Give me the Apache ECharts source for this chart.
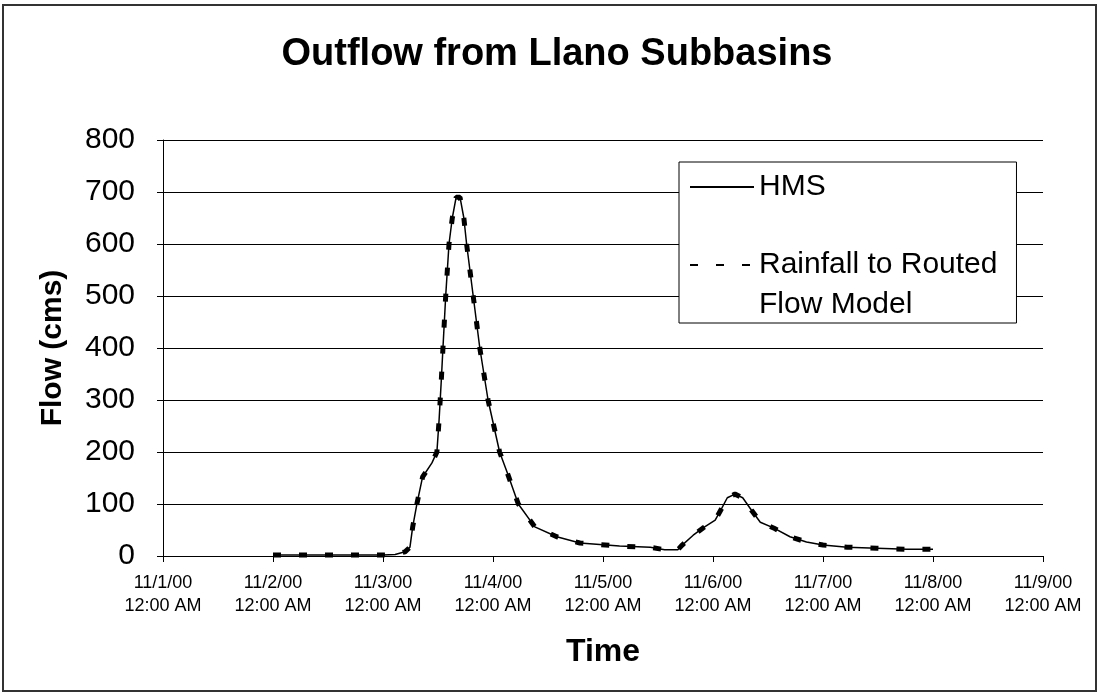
<!DOCTYPE html>
<html>
<head>
<meta charset="utf-8">
<script src="https://cdn.jsdelivr.net/npm/echarts@6/dist/echarts.min.js"></script>
<style>
html,body{margin:0;padding:0;background:#fff;}
#chart{width:1099px;height:694px;}
</style>
</head>
<body>
<div id="chart"></div>
<script>
// Time in days since 11/1/00 12:00 AM
var timeDays = [1.0, 1.5, 2.0, 2.11, 2.2, 2.245, 2.27, 2.31, 2.36, 2.445, 2.49, 2.51, 2.53, 2.545, 2.57, 2.60, 2.63, 2.665, 2.70, 2.735, 2.76, 2.82, 2.88, 2.955, 3.06, 3.13, 3.23, 3.38, 3.58, 3.79, 4.15, 4.43, 4.56, 4.68, 4.72, 4.82, 4.91, 5.02, 5.08, 5.13, 5.2, 5.27, 5.35, 5.43, 5.55, 5.7, 5.85, 6.0, 6.22, 6.49, 6.76, 7.0];
var hmsFlow = [2, 2, 2, 3, 8, 17, 56, 102, 152, 179, 200, 262, 338, 400, 500, 600, 650, 690, 690, 650, 600, 500, 400, 300, 200, 160, 100, 56, 37, 25, 19, 17, 12, 12, 21, 40, 54, 69, 92, 112, 119, 112, 88, 65, 54, 37, 27, 21, 17, 15, 13, 13];
var modelFlow = [2, 2, 2, 3, 8, 17, 56, 102, 152, 179, 200, 262, 338, 400, 500, 600, 650, 690, 690, 650, 600, 500, 400, 300, 200, 160, 100, 56, 37, 25, 19, 17, 12, 12, 21, 40, 54, 69, 92, 112, 119, 112, 88, 65, 54, 37, 27, 21, 17, 15, 13, 13];
var xTickLabels = ['11/1/00\n12:00 AM', '11/2/00\n12:00 AM', '11/3/00\n12:00 AM', '11/4/00\n12:00 AM', '11/5/00\n12:00 AM', '11/6/00\n12:00 AM', '11/7/00\n12:00 AM', '11/8/00\n12:00 AM', '11/9/00\n12:00 AM'];
var seriesNames = ['HMS', 'Rainfall to Routed\nFlow Model'];

function pairs(xs, ys) { return xs.map(function (x, i) { return [x, ys[i]]; }); }

var FONT = '"Liberation Sans", Arial, sans-serif';
var chart = echarts.init(document.getElementById('chart'), null, {renderer: 'canvas'});
chart.setOption({
  animation: false,
  backgroundColor: '#ffffff',
  title: {
    text: 'Outflow from Llano Subbasins',
    left: 552,
    textAlign: 'center',
    top: 31,
    textStyle: {fontFamily: FONT, fontSize: 38, fontWeight: 'bold', color: '#000'}
  },
  graphic: [{
    type: 'rect', shape: {x: 3, y: 5, width: 1093, height: 686},
    style: {fill: 'none', stroke: '#333', lineWidth: 2}, silent: true, z: -1
  }],
  legend: {
    orient: 'vertical',
    left: 679, top: 162,
    padding: [5, 19, -2, 10],
    itemGap: -2,
    itemWidth: 64, itemHeight: 20,
    itemTextGap: 13,
    backgroundColor: '#fff',
    borderColor: '#000', borderWidth: 1,
    itemStyle: {color: 'rgba(0,0,0,0)', borderWidth: 0, opacity: 0},
    textStyle: {fontFamily: FONT, fontSize: 30, color: '#000', lineHeight: 40},
    formatter: function (name) {
      return name.indexOf('\n') >= 0 ? '\n' + name : name;
    },
    data: [
      {name: seriesNames[0]},
      {name: seriesNames[1]}
    ]
  },
  grid: {left: 163, right: 56, top: 140, bottom: 138},
  xAxis: {
    type: 'value', min: 0, max: 8, interval: 1,
    name: 'Time', nameLocation: 'middle', nameGap: 80,
    nameTextStyle: {fontFamily: FONT, fontSize: 32, fontWeight: 'bold', color: '#000'},
    axisLine: {lineStyle: {color: '#000', width: 1}},
    axisTick: {show: true, length: 6, lineStyle: {color: '#000'}},
    axisLabel: {
      fontFamily: FONT, fontSize: 18, lineHeight: 23, color: '#000', margin: 16,
      formatter: function (v) { return xTickLabels[Math.round(v)]; }
    },
    splitLine: {show: false}
  },
  yAxis: {
    type: 'value', min: 0, max: 800, interval: 100,
    name: 'Flow (cms)', nameLocation: 'middle', nameGap: 95, nameRotate: 90,
    nameTextStyle: {fontFamily: FONT, fontSize: 30, fontWeight: 'bold', color: '#000'},
    axisLine: {show: true, lineStyle: {color: '#000', width: 1}},
    axisTick: {show: true, length: 6, lineStyle: {color: '#000'}},
    axisLabel: {fontFamily: FONT, fontSize: 30, color: '#000', margin: 28},
    splitLine: {show: true, lineStyle: {color: '#000', width: 1}}
  },
  series: [
    {
      name: seriesNames[0], type: 'line', data: pairs(timeDays, hmsFlow),
      showSymbol: false, symbol: 'none', smooth: false,
      lineStyle: {color: '#000', width: 1.5, type: 'solid'},
      itemStyle: {color: '#000'}, z: 3
    },
    {
      name: seriesNames[1], type: 'line', data: pairs(timeDays, modelFlow),
      showSymbol: false, symbol: 'none', smooth: false,
      lineStyle: {color: '#000', width: 5, type: [8, 18]},
      itemStyle: {color: '#000'}, z: 2
    }
  ]
});
</script>
</body>
</html>
